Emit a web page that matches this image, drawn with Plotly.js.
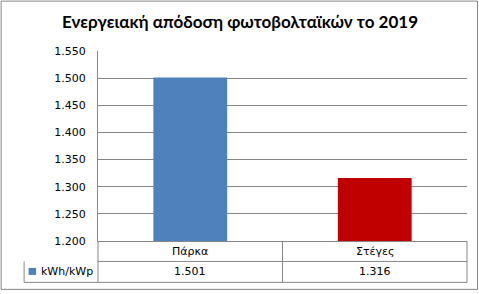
<!DOCTYPE html>
<html>
<head>
<meta charset="utf-8">
<script src="https://cdn.plot.ly/plotly-3.0.1.min.js"></script>
<style>html,body{margin:0;padding:0;background:#fff;}#chart{width:479px;height:294px;}</style>
</head>
<body>
<div id="chart"></div>
<script>
// Data
var categories = ["Πάρκα", "Στέγες"];
var seriesName = "kWh/kWp";
var values = [1501, 1316];
var valueLabels = ["1.501", "1.316"];
var yTicks = [1200, 1250, 1300, 1350, 1400, 1450, 1500, 1550];
var yTickLabels = ["1.200", "1.250", "1.300", "1.350", "1.400", "1.450", "1.500", "1.550"];
var colors = ["#4F81BD", "#C00000"];
var titleText = "Ενεργειακή απόδοση φωτοβολταϊκών το 2019";

// Layout geometry (pixels)
var W = 479, H = 294;
var M = {l: 97.5, r: 12, t: 50.5, b: 53};
var PW = W - M.l - M.r, PH = H - M.t - M.b;
function px(X) { return (X - M.l) / PW; }
function py(Y) { return (H - M.b - Y) / PH; }

var gray = "#868686";
var font = "DejaVu Sans, Verdana, sans-serif";

var shapes = [];
function line(x0, y0, x1, y1, xref) {
  shapes.push({type: "line", xref: xref || "paper", yref: "paper",
    x0: xref === "x" ? x0 : px(x0), x1: xref === "x" ? x1 : px(x1), y0: py(y0), y1: py(y1),
    line: {color: gray, width: 1}, layer: "above"});
}
// outer border
shapes.push({type: "rect", xref: "paper", yref: "paper", x0: px(0.5), x1: px(477.5), y0: py(0.5), y1: py(289.5),
  line: {color: gray, width: 1}, fillcolor: "rgba(0,0,0,0)"});
// table
var rowY0 = H - M.b, rowY1 = 261.5, rowY2 = 282.5, tableLeft = 23.5, right = W - M.r;
line(M.l, rowY1, right, rowY1);
line(tableLeft, rowY1, tableLeft, rowY2);
line(tableLeft, rowY2, right, rowY2);
line(M.l, rowY0, M.l, rowY2);
line(right, rowY0, right, rowY2);
line(0.5, rowY0, 0.5, rowY2, "x");
// legend key
shapes.push({type: "rect", xref: "paper", yref: "paper", x0: px(28), x1: px(35.5), y0: py(268), y1: py(275),
  line: {width: 0}, fillcolor: colors[0]});

var annotations = [];
categories.forEach(function (c, i) {
  annotations.push({xref: "x", yref: "paper", x: c, y: py(251.5), text: c, showarrow: false,
    font: {family: font, size: 11, color: "#000"}, xanchor: "center", yanchor: "middle"});
  annotations.push({xref: "x", yref: "paper", x: c, y: py(272), text: valueLabels[i], showarrow: false,
    font: {family: font, size: 11, color: "#000"}, xanchor: "center", yanchor: "middle"});
});
annotations.push({xref: "paper", yref: "paper", x: px(38), y: py(272), text: seriesName, showarrow: false,
  font: {family: font, size: 11, color: "#000"}, xanchor: "left", yanchor: "middle"});

var trace = {
  type: "bar", x: categories, y: values, name: seriesName,
  marker: {color: colors, line: {width: 0}}, hoverinfo: "x+y"
};

var layout = {
  width: W, height: H,
  margin: {l: M.l, r: M.r, t: M.t, b: M.b, pad: 0},
  paper_bgcolor: "#fff", plot_bgcolor: "#fff",
  showlegend: false,
  bargap: 0.6,
  title: {text: titleText, x: 240 / W, xref: "container", xanchor: "center", y: 1 - 22 / H, yref: "container", yanchor: "middle",
    font: {family: "Lato, DejaVu Sans, sans-serif", size: 17, color: "#000", weight: "bold"}},
  xaxis: {showticklabels: false, showline: true, linecolor: gray, linewidth: 1, showgrid: false, ticks: "",
    fixedrange: true, zeroline: false},
  yaxis: {range: [1200, 1550], tickvals: yTicks, ticktext: yTickLabels, showline: true, linecolor: gray, linewidth: 1,
    showgrid: true, gridcolor: gray, gridwidth: 1, ticks: "", zeroline: false, ticklabelstandoff: 9,
    tickfont: {family: font, size: 11, color: "#000"}, fixedrange: true},
  shapes: shapes,
  annotations: annotations
};

Plotly.newPlot("chart", [trace], layout, {displayModeBar: false, staticPlot: true});
</script>
</body>
</html>
